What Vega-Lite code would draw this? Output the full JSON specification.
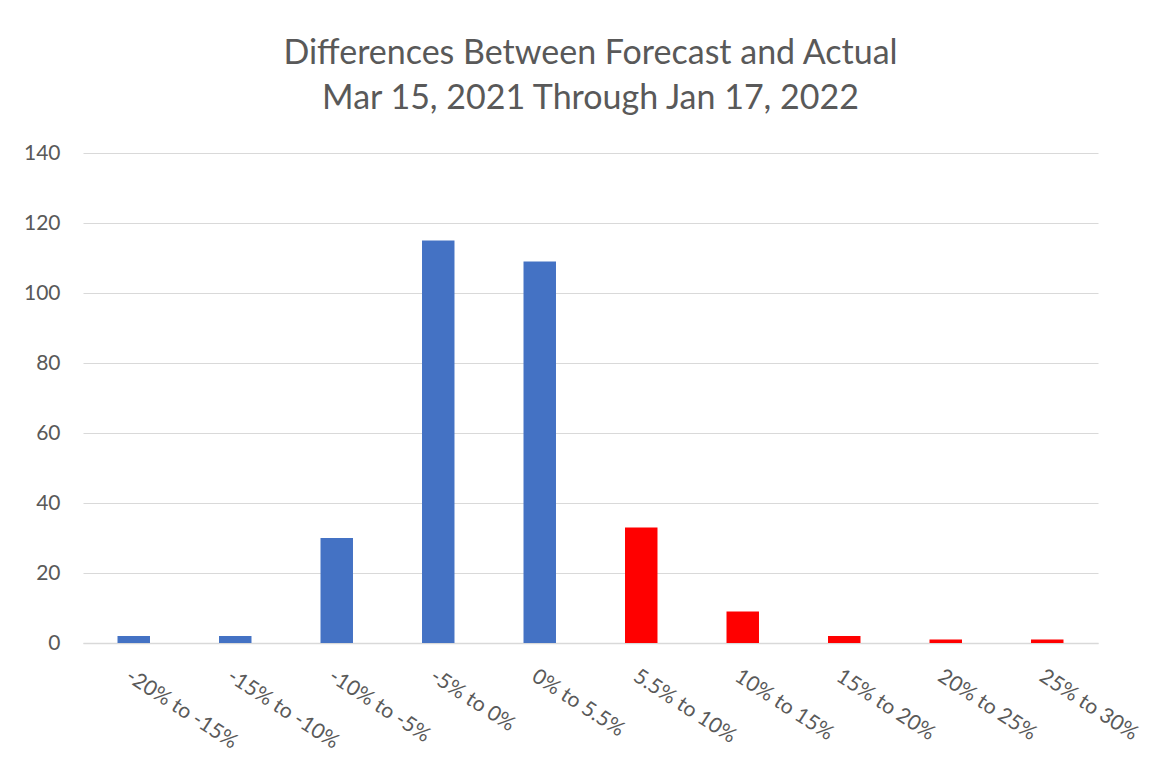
{
  "$schema": "https://vega.github.io/schema/vega-lite/v6.json",
  "width": 1015,
  "height": 490,
  "autosize": "none",
  "padding": {"left": 83, "top": 153, "right": 58, "bottom": 120},
  "background": "white",
  "title": {
    "text": ["Differences Between Forecast and Actual", "Mar 15, 2021 Through Jan 17, 2022"],
    "font": "Lato",
    "fontSize": 34,
    "fontWeight": "normal",
    "color": "#595959",
    "lineHeight": 45,
    "anchor": "middle",
    "baseline": "alphabetic",
    "offset": -1
  },
  "config": {
    "view": {"stroke": null},
    "axis": {
      "labelFont": "Lato",
      "labelFontSize": 21,
      "labelColor": "#595959",
      "gridColor": "#d9d9d9",
      "domainColor": "#d9d9d9",
      "ticks": false,
      "title": null
    }
  },
  "data": {
    "values": [
      {"range": "-20% to -15%", "count": 2, "side": "under"},
      {"range": "-15% to -10%", "count": 2, "side": "under"},
      {"range": "-10% to -5%", "count": 30, "side": "under"},
      {"range": "-5% to 0%", "count": 115, "side": "under"},
      {"range": "0% to 5.5%", "count": 109, "side": "under"},
      {"range": "5.5% to 10%", "count": 33, "side": "over"},
      {"range": "10% to 15%", "count": 9, "side": "over"},
      {"range": "15% to 20%", "count": 2, "side": "over"},
      {"range": "20% to 25%", "count": 1, "side": "over"},
      {"range": "25% to 30%", "count": 1, "side": "over"}
    ]
  },
  "mark": {"type": "bar"},
  "encoding": {
    "x": {
      "field": "range",
      "type": "nominal",
      "sort": null,
      "scale": {"paddingInner": 0.68, "paddingOuter": 0.34},
      "axis": {
        "labelAngle": 33,
        "labelAlign": "left",
        "labelBaseline": "top",
        "labelPadding": 22,
        "domainWidth": 1.5,
        "grid": false
      }
    },
    "y": {
      "field": "count",
      "type": "quantitative",
      "scale": {"domain": [0, 140]},
      "axis": {
        "values": [0, 20, 40, 60, 80, 100, 120, 140],
        "domain": false,
        "labelPadding": 23
      }
    },
    "color": {
      "field": "side",
      "type": "nominal",
      "scale": {"domain": ["under", "over"], "range": ["#4472C4", "#FF0000"]},
      "legend": null
    }
  }
}
